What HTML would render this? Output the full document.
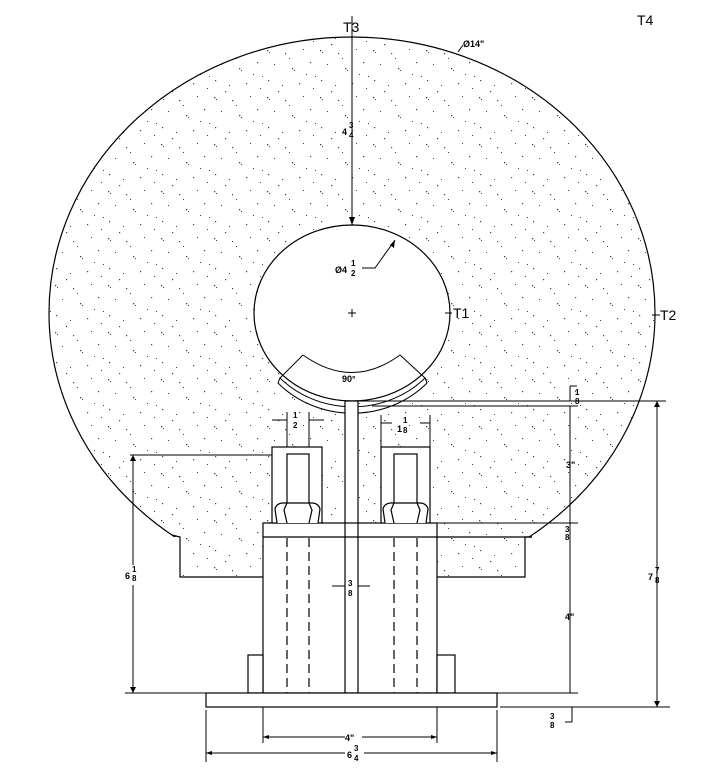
<!DOCTYPE html>
<html><head><style>body{margin:0;background:#fff}svg{display:block}text{font-family:"Liberation Sans",sans-serif;font-weight:bold;fill:#000}text.n{font-weight:normal}</style></head>
<body>
<svg width="715" height="781" viewBox="0 0 715 781" xmlns="http://www.w3.org/2000/svg">
<defs>
<pattern id="dots" width="53" height="47" patternUnits="userSpaceOnUse">
<g fill="#444">
<rect x="2" y="3" width="1.3" height="1.3"/><rect x="4" y="5" width="1" height="1"/><rect x="20" y="6" width="1.2" height="1.2"/><rect x="38" y="2" width="1" height="1"/>
<rect x="9" y="17" width="1" height="1"/><rect x="27" y="21" width="1.3" height="1.3"/><rect x="29" y="23" width="1" height="1"/><rect x="45" y="15" width="1.2" height="1.2"/>
<rect x="3" y="33" width="1.2" height="1.2"/><rect x="17" y="38" width="1" height="1"/><rect x="34" y="36" width="1.2" height="1.2"/><rect x="48" y="41" width="1" height="1"/>
<rect x="50" y="29" width="1" height="1"/><rect x="13" y="44" width="1.2" height="1.2"/><rect x="41" y="27" width="1" height="1"/><rect x="24" y="11" width="1" height="1"/>
</g>
</pattern>
<clipPath id="cl"><rect x="0" y="0" width="715" height="537"/></clipPath>
</defs>
<g stroke="#000" stroke-width="1.2">
<ellipse cx="352" cy="313" rx="303" ry="276" fill="url(#dots)" clip-path="url(#cl)"/>
<rect x="180" y="536" width="345" height="41" fill="url(#dots)" stroke="none"/>
<path d="M172 535 L180 537 L180 577 L525 577 L525 537 L532 537" fill="none"/>
<line x1="437" y1="537" x2="532" y2="537"/>
<ellipse cx="352" cy="313" rx="98" ry="88" fill="#fff"/>
<path d="M280 378 A98 88 0 0 0 425 378 L427 383 A101 93 0 0 1 278 383 Z" fill="#fff" stroke-width="1"/>
<rect x="345" y="401" width="13" height="292" fill="#fff"/>
<rect x="263" y="523" width="174" height="170" fill="#fff"/>
<line x1="263" y1="537" x2="437" y2="537"/>
<line x1="345" y1="523" x2="345" y2="693"/><line x1="358" y1="523" x2="358" y2="693"/>
<rect x="248" y="655" width="15" height="38" fill="#fff"/>
<rect x="437" y="655" width="18" height="38" fill="#fff"/>
<rect x="272" y="447" width="50" height="76" fill="#fff"/>
<rect x="287" y="454" width="22" height="50" fill="none"/>
<rect x="381" y="447" width="49" height="76" fill="#fff"/>
<rect x="394" y="454" width="23" height="50" fill="none"/>
<path d="M277 523 L275 509 Q276 504 282 503 L313 503 Q319 504 320 509 L318 523 M287 503 L284 510 L287 523 M309 503 L312 510 L309 523" fill="#fff"/>
<path d="M385 523 L383 509 Q384 504 390 503 L421 503 Q427 504 428 509 L426 523 M394 503 L391 510 L394 523 M417 503 L420 510 L417 523" fill="#fff"/>
<g stroke-dasharray="9,5">
<line x1="287" y1="538" x2="287" y2="707"/><line x1="309" y1="538" x2="309" y2="707"/>
<line x1="394" y1="538" x2="394" y2="707"/><line x1="417" y1="538" x2="417" y2="707"/>
</g>
<rect x="206" y="693" width="291" height="14" fill="#fff"/>
</g>
<g stroke="#000" stroke-width="1" fill="none">
<line x1="352" y1="37" x2="352" y2="225"/>
<line x1="352" y1="16" x2="352" y2="37"/>
<line x1="348" y1="313" x2="356" y2="313"/><line x1="352" y1="309" x2="352" y2="317"/>
<path d="M395 240 L375 268 L362 268"/>
<path d="M303 355 Q352 390 400 355"/>
<line x1="303" y1="355" x2="280" y2="378"/><line x1="400" y1="355" x2="425" y2="378"/>
<line x1="358" y1="401" x2="666" y2="401"/>
<line x1="372" y1="406" x2="578" y2="406"/>
<line x1="437" y1="523" x2="578" y2="523"/>
<line x1="570" y1="406" x2="570" y2="693"/>
<line x1="570" y1="386" x2="570" y2="401"/><line x1="570" y1="386" x2="577" y2="386"/>
<line x1="455" y1="693" x2="578" y2="693"/>
<line x1="657" y1="401" x2="657" y2="707"/>
<line x1="500" y1="707" x2="670" y2="707"/>
<line x1="572" y1="707" x2="572" y2="722"/><line x1="565" y1="722" x2="572" y2="722"/>
<line x1="130" y1="455" x2="272" y2="455"/>
<line x1="133" y1="455" x2="133" y2="565"/><line x1="133" y1="585" x2="133" y2="693"/>
<line x1="125" y1="693" x2="206" y2="693"/>
<line x1="263" y1="707" x2="263" y2="743"/><line x1="437" y1="707" x2="437" y2="743"/>
<line x1="263" y1="737" x2="345" y2="737"/><line x1="362" y1="737" x2="437" y2="737"/>
<line x1="206" y1="710" x2="206" y2="762"/><line x1="497" y1="710" x2="497" y2="762"/>
<line x1="206" y1="753" x2="345" y2="753"/><line x1="364" y1="753" x2="497" y2="753"/>
<line x1="287" y1="412" x2="287" y2="447"/><line x1="309" y1="412" x2="309" y2="447"/>
<line x1="272" y1="420" x2="287" y2="420"/><line x1="309" y1="420" x2="324" y2="420"/>
<line x1="381" y1="415" x2="381" y2="447"/><line x1="430" y1="415" x2="430" y2="447"/>
<line x1="381" y1="423" x2="392" y2="423"/><line x1="420" y1="423" x2="430" y2="423"/>
<line x1="332" y1="586" x2="345" y2="586"/><line x1="358" y1="586" x2="370" y2="586"/>
<path d="M463 45 L458 52"/>
<line x1="445" y1="313" x2="452" y2="313"/>
<line x1="652" y1="315" x2="660" y2="315"/>
</g>
<g fill="#000">
<path d="M352 225 l-3 -8 l6 0 z"/><path d="M395 240 l-1 8 l-4 -3 z"/>
<path d="M133 455 l-3 6 l6 0 z"/><path d="M133 693 l-3 -6 l6 0 z"/>
<path d="M657 401 l-3 6 l6 0 z"/><path d="M657 707 l-3 -6 l6 0 z"/>
<path d="M263 737 l6 -2 l0 4 z"/><path d="M437 737 l-6 -2 l0 4 z"/>
<path d="M206 753 l6 -2 l0 4 z"/><path d="M497 753 l-6 -2 l0 4 z"/>
</g>
<g font-size="14">
<text class="n" x="343" y="32">T3</text>
<text class="n" x="637" y="25">T4</text>
<text class="n" x="453" y="318">T1</text>
<text class="n" x="660" y="320">T2</text>
</g>
<g font-size="9">
<text x="463" y="47">Ø14"</text>
<text x="342" y="135">4</text><text x="349" y="128" font-size="8">3</text><text x="349" y="138" font-size="8">4</text>
<text x="335" y="273">Ø4</text><text x="351" y="266" font-size="8">1</text><text x="351" y="276" font-size="8">2</text>
<text x="342" y="382">90°</text>
<text x="293" y="418" font-size="8">1</text><text x="293" y="428" font-size="8">2</text>
<text x="397" y="432">1</text><text x="403" y="423" font-size="8">1</text><text x="403" y="433" font-size="8">8</text>
<text x="566" y="468">3"</text>
<text x="565" y="532" font-size="8">3</text><text x="565" y="540" font-size="8">8</text>
<text x="575" y="395" font-size="8">1</text><text x="575" y="404" font-size="8">8</text>
<text x="565" y="620">4"</text>
<text x="648" y="580">7</text><text x="655" y="573" font-size="8">7</text><text x="655" y="583" font-size="8">8</text>
<text x="125" y="579">6</text><text x="132" y="572" font-size="8">1</text><text x="132" y="581" font-size="8">8</text>
<text x="348" y="586" font-size="8">3</text><text x="348" y="596" font-size="8">8</text>
<text x="345" y="741">4"</text>
<text x="347" y="758">6</text><text x="354" y="751" font-size="8">3</text><text x="354" y="761" font-size="8">4</text>
<text x="550" y="719" font-size="8">3</text><text x="550" y="728" font-size="8">8</text>
</g>
</svg>
</body></html>
